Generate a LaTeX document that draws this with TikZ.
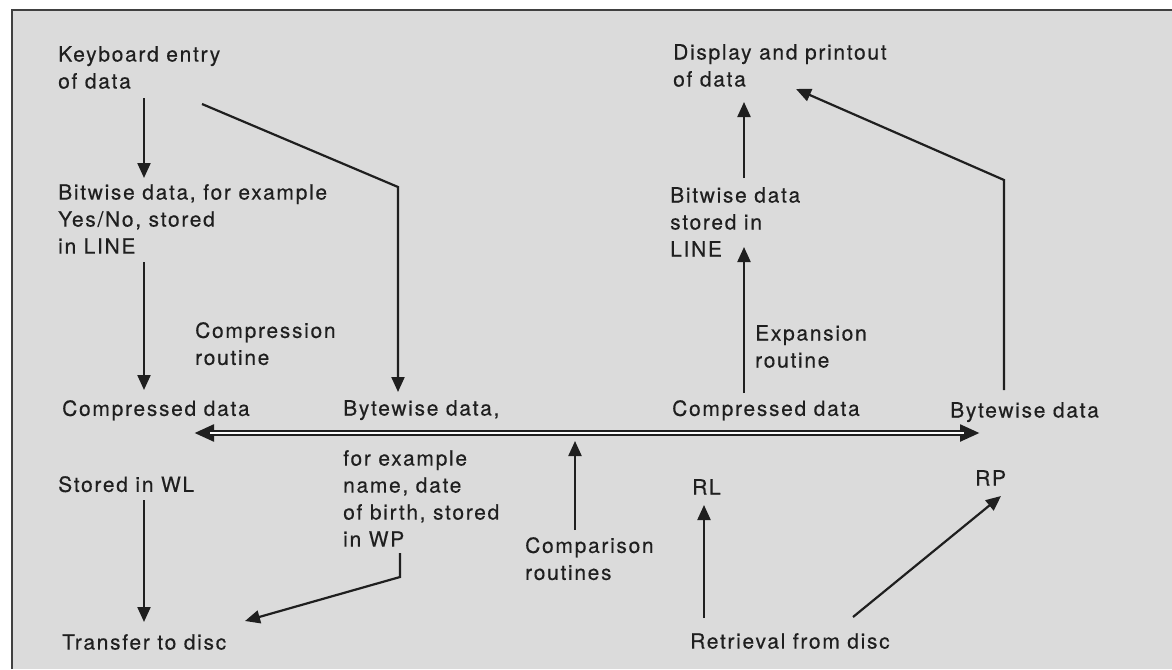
\documentclass[tikz,border=0pt]{standalone}
\usepackage{fontspec}
\setmainfont{TeX Gyre Heros}[LetterSpace=8,FakeBold=0.3]
\usetikzlibrary{arrows.meta}
\definecolor{bg}{gray}{0.86}
\definecolor{ink}{gray}{0.12}
\begin{document}
\begin{tikzpicture}[x=1pt,y=-1pt,
  lbl/.style={anchor=north west, inner sep=0pt, align=left, text=ink,
    font=\fontsize{21}{27}\selectfont},
  conn/.style={draw=ink, line width=2.2pt, -{Triangle[width=13pt,length=15pt]}},
  plain/.style={draw=ink, line width=2pt}]
\useasboundingbox (0,0) rectangle (1172,669);
% background panel
\fill[bg] (12,10) rectangle (1172,669);
\draw[ink!85, line width=2.5pt] (12,669) -- (12,10) -- (1172,10);
% texts
\node[lbl] (kb)  at (58,46)  {Keyboard entry\\of data};
\node[lbl] (bwl) at (58,184) {Bitwise data, for example\\Yes/No, stored\\in LINE};
\node[lbl] (cpr) at (195,322) {Compression\\routine};
\node[lbl] (cdl) at (62,400) {Compressed data};
\node[lbl] (bwd) at (343,400) {Bytewise data,};
\node[lbl] (fex) at (343,450) {for example\\name, date\\of birth, stored\\in WP};
\node[lbl] (swl) at (58,476) {Stored in WL};
\node[lbl] (ttd) at (62,634) {Transfer to disc};
\node[lbl] (cmp) at (525,537) {Comparison\\routines};
\node[lbl] (rl)  at (692,479) {RL};
\node[lbl] (rfd) at (690,633) {Retrieval from disc};
\node[lbl] (rp)  at (975,470) {RP};
\node[lbl] (cdr) at (672,400) {Compressed data};
\node[lbl] (bdr) at (950,402) {Bytewise data};
\node[lbl] (exr) at (755,325) {Expansion\\routine};
\node[lbl] (bwr) at (670,187) {Bitwise data\\stored in\\LINE};
\node[lbl] (dpd) at (673,44) {Display and printout\\of data};
% connector end points
\coordinate (a1s) at (144,98);   \coordinate (a1e) at (144,178);
\coordinate (a2s) at (144,262);  \coordinate (a2e) at (144,390);
\coordinate (a3s) at (202,104);  \coordinate (a3m) at (398,187); \coordinate (a3e) at (398,392);
\coordinate (a4s) at (144,500);  \coordinate (a4e) at (144,622);
\coordinate (a5s) at (400,553);  \coordinate (a5m) at (400,577); \coordinate (a5e) at (245,621);
\coordinate (a6s) at (575,530);  \coordinate (a6e) at (575,441);
\coordinate (a7s) at (704,618);  \coordinate (a7e) at (704,505);
\coordinate (a8s) at (853,617);  \coordinate (a8e) at (1001,496);
\coordinate (a9s) at (744,393);  \coordinate (a9e) at (744,247);
\coordinate (a10s) at (744,178); \coordinate (a10e) at (744,102);
\coordinate (a11s) at (1004,390); \coordinate (a11m) at (1004,180); \coordinate (a11e) at (796,89);
\coordinate (dl) at (194,433);   \coordinate (dr) at (980,433);
% connectors
\draw[conn] (a1s) -- (a1e);
\draw[conn] (a2s) -- (a2e);
\draw[conn] (a3s) -- (a3m) -- (a3e);
\draw[conn] (a4s) -- (a4e);
\draw[conn] (a5s) -- (a5m) -- (a5e);
\draw[conn] (a6s) -- (a6e);
\draw[conn] (a7s) -- (a7e);
\draw[conn] (a8s) -- (a8e);
\draw[conn] (a9s) -- (a9e);
\draw[conn] (a10s) -- (a10e);
\draw[conn] (a11s) -- (a11m) -- (a11e);
% double-line two-way arrow
\draw[draw=ink, line width=6pt, {Triangle[width=16pt,length=20pt]}-{Triangle[width=16pt,length=20pt]}] (dl) -- (dr);
\draw[draw=white!92!bg, line width=1.6pt, shorten <=16pt, shorten >=16pt] (dl) -- (dr);
\end{tikzpicture}
\end{document}
